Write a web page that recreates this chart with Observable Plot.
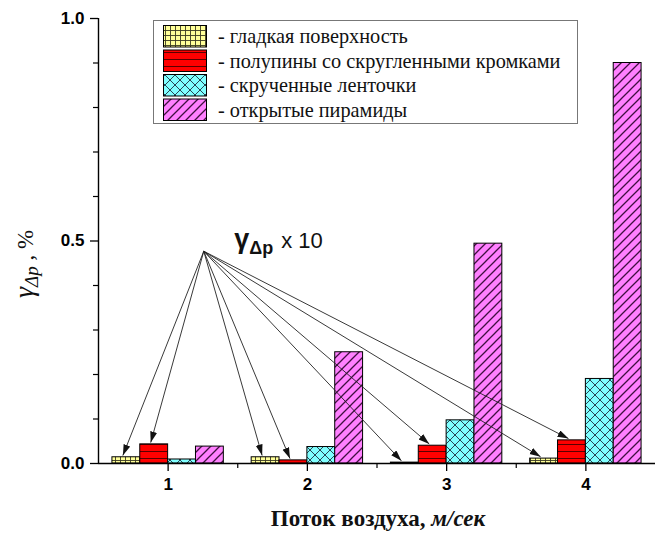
<!DOCTYPE html>
<html><head><meta charset="utf-8">
<script src="https://cdn.jsdelivr.net/npm/d3@7"></script>
<script src="https://cdn.jsdelivr.net/npm/@observablehq/plot@0.6"></script>
<style>body{margin:0;background:#fff;}</style>
</head><body><div id="chart"></div>
<script>
// ---- data ----
const categories = [1, 2, 3, 4];
const seriesNames = ["гладкая поверхность", "полупины со скругленными кромками", "скрученные ленточки", "открытые пирамиды"];
const smoothValues = [0.014, 0.014, 0.002, 0.011];
const halfPinValues = [0.043, 0.007, 0.040, 0.052];
const twistedTapeValues = [0.009, 0.037, 0.097, 0.190];
const pyramidValues = [0.038, 0.250, 0.494, 0.900];
const yMajorTicks = [0, 0.5, 1.0];
const yMinorTicks = [0.1, 0.2, 0.3, 0.4, 0.6, 0.7, 0.8, 0.9];
const xMinorTicks = [1.5, 2.5, 3.5];
const xAxisTitle = "Поток воздуха, ";
const xAxisUnit = "м/сек";
const annotationScaled = "x 10";
const arrowedSeries = [0, 1]; // series whose bars are magnified x10

// ---- build ----
const seriesValues = [smoothValues, halfPinValues, twistedTapeValues, pyramidValues];
const patternIds = ["pat-smooth", "pat-halfpin", "pat-tape", "pat-pyramid"];
const barW = 0.2;
const offset = i => (i - 1.5) * barW;
const rows = seriesValues.map((vals, i) => categories.map((c, j) => ({cat: c, series: i, value: vals[j]})));
const arrowRows = categories.flatMap((c, j) => arrowedSeries.map(i => ({cat: c, series: i, value: seriesValues[i][j]})));
const origin = {x: 1.256, y: 0.477};

const SANS = "'Liberation Sans', Arial, sans-serif";
const SERIF = "'Liberation Serif', 'Times New Roman', serif";

const chart = Plot.plot({
  width: 655, height: 536,
  marginLeft: 98, marginRight: 0, marginTop: 18, marginBottom: 73,
  style: {fontFamily: SANS, background: "#fff"},
  x: {domain: [0.5, 4.5]},
  y: {domain: [0, 1]},
  marks: [
    ...rows.map((r, i) => Plot.rect(r, {
      x1: d => d.cat + offset(d.series) - barW / 2,
      x2: d => d.cat + offset(d.series) + barW / 2,
      y1: 0, y2: "value",
      fill: `url(#${patternIds[i]})`, stroke: "#000", strokeWidth: 1
    })),
    Plot.link(arrowRows, {
      x1: () => origin.x, y1: () => origin.y,
      x2: d => d.cat + offset(d.series) - 0.025,
      y2: d => d.value + 0.004,
      stroke: "#222", strokeWidth: 0.9
    }),
    Plot.ruleY([0], {stroke: "#000", strokeWidth: 1.4}),
    Plot.ruleX([0.5], {stroke: "#000", strokeWidth: 1.4}),
    Plot.axisY({ticks: yMajorTicks, tickSize: 8, tickPadding: 6, tickFormat: d3.format(".1f"),
      fontSize: 17, fontWeight: "bold", label: null, stroke: "#000", strokeWidth: 1.3, fill: "#000"}),
    Plot.axisY({ticks: yMinorTicks, tickSize: 5, tickFormat: () => "", label: null, stroke: "#000", strokeWidth: 1.2}),
    Plot.axisX({ticks: categories, tickSize: 8, tickPadding: 6, tickFormat: d => String(d),
      fontSize: 17, fontWeight: "bold", label: null, stroke: "#000", strokeWidth: 1.3, fill: "#000"}),
    Plot.axisX({ticks: xMinorTicks, tickSize: 5, tickFormat: () => "", label: null, stroke: "#000", strokeWidth: 1.2})
  ]
});
document.getElementById("chart").append(chart);

// ---- patterns & markers ----
const svg = d3.select(chart);
const defs = svg.insert("defs", ":first-child");
function pattern(id, w, h, fill, path, stroke, sw) {
  const p = defs.append("pattern").attr("id", id).attr("patternUnits", "userSpaceOnUse").attr("width", w).attr("height", h);
  p.append("rect").attr("width", w).attr("height", h).attr("fill", fill);
  p.append("path").attr("d", path).attr("stroke", stroke).attr("stroke-width", sw).attr("fill", "none");
}
pattern("pat-smooth", 5, 5, "#ffff99", "M0,0.5H5M0.5,0V5", "#3a3a20", 0.9);
pattern("pat-halfpin", 8, 7, "#ff0000", "M0,3.5H8", "#5a0000", 1);
pattern("pat-tape", 10, 10, "#80ffff", "M0,0L10,10M10,0L0,10", "#203040", 0.9);
pattern("pat-pyramid", 9, 9, "#ff80ff", "M-2,2L2,-2M0,9L9,0M7,11L11,7", "#401040", 1.3);
defs.append("marker").attr("id", "arrowhead").attr("markerUnits", "userSpaceOnUse")
  .attr("markerWidth", 12).attr("markerHeight", 8).attr("refX", 11).attr("refY", 3.5).attr("orient", "auto")
  .append("path").attr("d", "M0,0L11,3.5L0,7Z").attr("fill", "#111");
svg.selectAll('g[aria-label="link"] path').attr("marker-end", "url(#arrowhead)");

// ---- annotation ----
const sx = chart.scale("x"), sy = chart.scale("y");
const ox = sx.apply(origin.x), oy = sy.apply(origin.y);
const ann = svg.append("text").attr("x", ox + 31).attr("y", oy - 3)
  .attr("font-family", SANS).attr("text-anchor", "start").attr("fill", "#111");
ann.append("tspan").attr("font-size", 27).attr("font-weight", "bold").text("γ");
ann.append("tspan").attr("font-size", 18).attr("font-weight", "bold").attr("dy", 6).text("Δp");
ann.append("tspan").attr("font-size", 22).attr("dy", -6).attr("dx", 8).text(annotationScaled);

// ---- axis titles ----
const xt = svg.append("text").attr("x", 378).attr("y", 526).attr("text-anchor", "middle")
  .attr("font-family", SERIF).attr("font-weight", "bold").attr("font-size", 23).attr("fill", "#111");
xt.append("tspan").text(xAxisTitle);
xt.append("tspan").attr("font-style", "italic").text(xAxisUnit);

const yt = svg.append("text").attr("transform", "translate(33,264) rotate(-90)").attr("text-anchor", "middle")
  .attr("font-family", SERIF).attr("fill", "#111");
yt.append("tspan").attr("font-size", 28).attr("font-style", "italic").text("γ");
yt.append("tspan").attr("font-size", 19).attr("font-style", "italic").attr("dy", 5).text("Δp");
yt.append("tspan").attr("font-size", 23).attr("dy", -5).text(" , %");

// ---- legend ----
const lg = svg.append("g");
lg.append("rect").attr("x", 153.5).attr("y", 20.5).attr("width", 424).attr("height", 103)
  .attr("fill", "#fff").attr("stroke", "#777").attr("stroke-width", 1);
seriesNames.forEach((name, i) => {
  const y0 = 25 + i * 24.5;
  lg.append("rect").attr("x", 163.5).attr("y", y0 + 0.5).attr("width", 43).attr("height", 21.5)
    .attr("fill", `url(#${patternIds[i]})`).attr("stroke", "#000").attr("stroke-width", 1);
  lg.append("text").attr("x", 218).attr("y", y0 + 18).attr("font-family", SERIF).attr("text-anchor", "start")
    .attr("font-size", 20.3).attr("fill", "#111").text("- " + name);
});
</script>
</body></html>
